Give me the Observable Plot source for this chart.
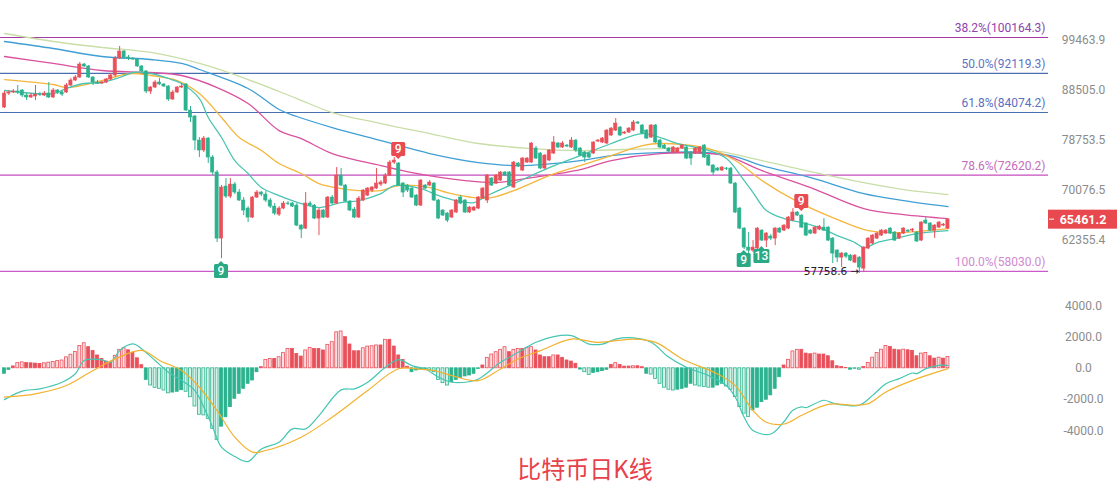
<!DOCTYPE html>
<html><head><meta charset="utf-8">
<script src="https://cdn.jsdelivr.net/npm/d3@7"></script>
<script src="https://cdn.jsdelivr.net/npm/@observablehq/plot@0.6"></script>
<style>
body{margin:0;background:#fff;font-family:Roboto,"Noto Sans",sans-serif;}
#wrap{position:relative;width:1117px;height:490px;overflow:hidden;background:#fff;}
#price{position:absolute;left:0;top:0;}
#macd{position:absolute;left:0;top:295px;}
#cap{position:absolute;left:0;top:455px;width:1170px;text-align:center;font-size:24px;line-height:26px;font-family:"Noto Sans CJK SC";color:#e8414b;}
</style></head><body>
<div id="wrap"><div id="price"></div><div id="macd"></div><div id="cap">比特币日K线</div></div>
<script>
// ---------- data ----------
const open = [
85060,87880,88090,88290,88500,87470,87070,87270,87680,87470,
87880,87070,88500,88090,88090,89540,90590,91230,94040,93610,
91230,90170,89960,90170,90800,91660,95370,96940,95590,95370,
95150,93610,92520,88290,89120,90170,89750,89330,86660,88090,
89120,89750,84460,83290,78740,76930,79110,75680,73080,62630,
70720,69090,71050,69740,68450,67180,65780,68930,69740,69410,
68450,67490,66240,67180,67970,67970,67650,64560,64110,67970,
67650,65630,66870,65780,68930,67970,72560,70890,68290,67020,
65780,68450,69250,70060,70390,71050,71220,72560,74800,74630,
71220,70890,70390,69250,67650,70890,70890,71220,68450,66870,
66400,65780,66560,68930,68450,66560,66870,67180,68770,68450,
72060,71220,71720,73080,73080,70560,74630,73420,74800,74800,
77290,76390,73760,75150,76390,78200,77470,77830,77470,78740,
77290,76570,76390,76390,78560,78380,78200,79670,80600,81170,
80040,80230,80600,82130,81550,80600,79300,81550,78740,77830,
77290,76570,76570,77290,77470,76570,76390,76570,77830,76030,
74280,73760,73420,73760,73760,71220,67180,64110,61330,60900,
61190,63810,62340,62930,62630,64110,63810,64110,65320,66560,
66090,64870,63810,63370,63960,64260,64260,62630,60900,59910,
60480,60190,59220,59910,58390,61190,61910,62630,63070,63370,
64110,63520,62630,63370,63810,63810,63520,62340,65320,64870,
63810,64260,64560,64110];
const close = [
87880,88090,88290,88090,87470,87070,87470,87680,87580,87880,
87070,88500,88090,87680,89540,90590,91230,94040,93610,91230,
90170,89960,90170,90800,91660,95370,96940,95590,95370,95150,
93610,92520,88290,89120,90170,89750,89330,86660,88090,89120,
89330,84460,83090,78740,76930,79110,75680,73080,62630,70560,
69090,71050,69740,68450,66870,65780,68930,69740,69410,68450,
67490,66400,67180,67970,67890,67490,64560,63960,67970,67650,
65630,66870,65780,68930,67970,72560,70890,68290,66870,65780,
68770,70060,70390,70560,71220,71390,72560,74800,75150,70890,
69740,70060,68930,67650,71720,70390,71390,68450,65630,66090,
65320,66870,68450,67970,66560,67340,67340,68930,70390,72560,
70890,72560,73080,72560,70890,74800,74110,75500,75500,78200,
75500,73760,76030,76930,78380,77470,78200,77650,78740,76930,
76030,75680,75680,78380,78740,79110,80600,80980,81930,79670,
80230,80980,82130,81930,80040,79110,81550,78380,77470,77290,
76750,77470,77290,77830,75500,75500,77290,77470,75680,74280,
73080,73420,73930,73680,71220,66560,64110,61330,60900,61330,
64110,62340,63370,62630,64110,63520,64560,65780,66560,66090,
64260,63070,63370,64260,64410,63810,62340,60480,59910,60480,
60050,59500,60190,58530,61330,62630,63070,63370,63810,63810,
63370,62340,63370,64110,63660,63960,62200,65020,64870,63810,
64560,65020,64710,65461.2];
const high = [
88290,88500,88710,89540,88710,87880,87880,89540,88090,88290,
90170,88920,88710,88500,89960,91020,91660,94490,94270,93820,
91440,90590,90380,91020,92090,95820,98080,97170,96040,95590,
95370,93820,92730,89330,90590,91020,89960,89540,88500,89330,
89960,89960,85250,83480,79300,79480,79300,76030,73420,70890,
72060,72060,71390,70230,68930,67490,69090,70060,69900,69900,
68770,67970,67490,68290,68290,68130,67970,64710,69740,68290,
67810,67180,67020,69090,69250,73930,73760,71050,68450,67340,
69090,70230,70560,70720,73760,71720,72910,75150,75680,74800,
71390,71050,70560,69410,71890,71050,71720,71390,68610,67020,
66560,67020,68610,69250,68610,67490,67490,69090,70560,72730,
72220,72730,73250,73250,73250,74980,74800,75680,75680,78380,
77650,76570,76210,77110,79480,78380,78560,78010,79300,78930,
77470,76750,76570,78560,78930,79300,80790,81170,82900,81360,
80420,81170,82510,82320,81740,80790,81740,81740,78930,78010,
77470,77650,77470,78010,77650,76750,77470,77650,78010,76210,
74450,73930,74110,73930,73930,71390,67340,64260,63520,62340,
64260,63960,63520,63220,64260,64260,64710,65940,67180,66710,
66240,65020,63960,64410,64560,65630,64410,62780,61040,60620,
60620,60330,60330,60050,61470,62780,63220,63520,63960,63960,
64260,63660,63520,64260,63960,64110,63660,65170,65780,65020,
64710,65170,64870,65630];
const low = [
84860,87470,87880,87680,87070,86460,86860,86460,87270,87270,
86860,86860,87680,87270,87880,89330,90380,91020,93390,91020,
89540,89750,89750,89960,90590,91230,95150,95150,94930,94930,
93390,92300,87880,87680,88920,89540,89120,86260,86460,87880,
88920,84260,82130,76930,75680,76570,74630,72560,62050,59770,
68770,68770,69410,68290,66090,65020,65630,68770,69090,68130,
67180,66090,65940,67020,67650,67340,64410,62630,63960,67490,
65480,63070,65630,65630,67810,67810,70720,68130,66710,65630,
65630,68290,69090,69740,70230,70720,71050,72390,74450,70720,
68930,69740,68770,67490,67490,70230,70720,68290,65480,65940,
65020,65630,66400,67810,66400,66400,66710,67020,68610,67970,
70720,71050,71550,72390,70720,70390,73930,73250,74630,74630,
75330,73590,73590,74980,76210,77290,77290,77470,77290,76570,
75860,74800,75500,76210,78380,78200,78010,79480,80420,79480,
79860,80040,80420,81740,79860,78930,79110,78200,77290,77110,
76570,76390,76390,77110,75330,74280,76210,76390,75500,74110,
72560,73250,73250,73420,71050,66400,63960,61040,60480,60620,
61040,62200,61330,62340,61620,63370,63660,63960,65170,65940,
64110,62930,63220,63220,63810,63660,62200,59080,59220,58530,
59770,59360,59080,57758.6,57850,61040,61760,62490,62930,63220,
63220,62200,62490,63220,63520,63520,62050,62200,64710,63660,
62630,64110,64410,63960];

// moving averages: [candle index, price]
const maTeal = [[0,88500],[11,87880],[14,88920],[18,89960],[22,90170],[26,91230],[29,92300],[33,92090],[37,91020],[40,89960],[44,86860],[46,83090],[49,79300],[52,75150],[55,72910],[58,70560],[62,69250],[67,67970],[71,67340],[76,68130],[80,68450],[85,69580],[88,70890],[94,70390],[98,69250],[102,68450],[106,68130],[109,69250],[115,71220],[123,73930],[130,76030],[137,78200],[144,80040],[148,79300],[152,78200],[159,76930],[163,75500],[167,71720],[169,69740],[172,66870],[176,65630],[180,65020],[184,64260],[188,63070],[192,62050],[194,61330],[197,62050],[201,62630],[206,63370],[213,63810]];
const maOrange = [[0,90800],[11,89750],[14,89120],[22,90590],[26,91660],[29,92090],[33,91660],[39,90590],[44,87880],[49,83090],[53,79300],[58,76930],[62,74630],[67,72910],[71,71220],[76,70390],[80,70060],[85,70060],[89,70890],[96,70560],[100,69740],[106,68930],[110,68930],[115,70060],[123,72560],[130,74280],[137,76030],[144,77830],[148,78200],[159,77290],[165,75150],[171,71720],[179,68290],[187,65780],[195,63810],[202,63520],[213,64110]];
const maMagenta = [[0,95820],[11,94270],[22,92730],[33,92300],[40,91660],[48,89120],[55,85860],[62,80600],[67,79110],[74,76390],[85,74280],[92,73080],[104,71720],[111,71390],[119,72220],[130,73590],[137,75150],[148,76390],[159,76390],[163,76030],[171,73420],[182,70560],[194,67180],[203,66240],[213,65630]];
const maBlue = [[0,99230],[11,97620],[22,95820],[33,95150],[40,94270],[44,92950],[55,88920],[62,84660],[66,83290],[74,81170],[85,78740],[96,76390],[107,74800],[116,74280],[130,75150],[137,76030],[148,76570],[159,76570],[165,75860],[171,74280],[182,72220],[194,69580],[203,68450],[213,67490]];
const maPale = [[0,101100],[11,99230],[22,97850],[33,96720],[44,94270],[55,90800],[66,86860],[74,84070],[85,81930],[96,80040],[107,78200],[119,77290],[130,76930],[148,77290],[159,77110],[171,75150],[182,73250],[194,71390],[203,70230],[213,69410]];

// fibonacci levels
const fibPct = ["38.2%","50.0%","61.8%","78.6%","100.0%"];
const fibPrice = [100164.3, 92119.3, 84074.2, 72620.2, 58030.0];

// price axis ticks
const priceTicks = [62355.4, 70076.5, 78753.5, 88505.0, 99463.9];

// signal markers
const markIndex = [49, 89, 167, 171, 180];
const markPrice = [57990, 77110, 59500, 60050, 68290];
const markLabel = ["9", "9", "9", "13", "9"];
const markAbove = [false, true, false, false, true];

// MACD
const hist = [
-350,-100,120,330,380,340,320,300,280,320,
360,400,460,500,700,870,1050,1430,1600,1350,
1100,820,600,430,380,800,1180,1280,1150,980,
640,200,-740,-1100,-1250,-1310,-1420,-1600,-1550,-1500,
-1400,-1500,-1850,-2440,-2970,-3010,-3230,-3870,-4580,-3730,
-3130,-2480,-1950,-1630,-1310,-990,-780,-250,70,540,
600,600,710,970,1240,1240,920,750,1140,1310,
1240,1240,1140,1500,1670,2300,2350,1990,1520,1090,
1090,1280,1390,1410,1460,1460,1820,1820,1390,820,
540,100,-250,-140,-80,-80,-140,-250,-740,-950,
-1100,-890,-740,-610,-520,-460,-350,-40,180,670,
880,1030,1180,1350,1030,1180,1240,1240,1310,1350,
1140,820,710,710,820,820,670,500,430,290,
-80,-250,-420,-300,-250,-180,-100,220,330,220,
110,110,130,130,70,-350,-400,-680,-990,-1240,
-1370,-1420,-1370,-1310,-1240,-990,-1100,-1160,-1200,-1240,
-1240,-1100,-990,-1160,-1370,-1840,-2480,-2900,-3120,-2690,
-2520,-2160,-2010,-1730,-1310,-570,180,540,1080,1180,
1180,940,900,940,880,880,770,450,130,80,
20,-90,-30,-90,80,340,680,980,1190,1430,
1360,1190,1150,1190,1150,1110,770,940,980,770,
620,680,620,720];
const dif = [[0,-2000],[4,-1460],[8,-1310],[13,-890],[16,-350],[18,500],[22,540],[24,390],[26,1140],[29,1560],[31,1240],[34,500],[37,-250],[40,-780],[43,-1420],[45,-2480],[47,-3760],[49,-5040],[52,-5640],[55,-5960],[58,-5150],[62,-4720],[65,-3870],[68,-3870],[71,-3020],[76,-1380],[79,-1310],[82,-890],[86,70],[89,550],[92,170],[95,-40],[98,-575],[101,-890],[104,-890],[107,-680],[112,380],[116,1020],[120,1660],[124,2020],[128,2090],[132,1550],[135,1550],[138,1870],[142,1940],[146,1660],[150,700],[154,60],[159,-470],[163,-1110],[165,-1850],[167,-3130],[169,-3980],[173,-4200],[176,-3400],[178,-2680],[180,-2470],[181,-2510],[185,-2040],[187,-2220],[190,-2360],[193,-2360],[196,-1730],[199,-980],[202,-660],[205,-300],[206,-340],[208,-20],[211,190],[213,190]];
const dea = [[0,-1840],[7,-1630],[14,-1100],[20,-140],[25,600],[31,1140],[35,500],[40,-140],[44,-1210],[48,-2700],[52,-4400],[56,-5360],[59,-5250],[67,-4400],[74,-3120],[82,-1420],[89,-30],[94,-60],[97,-150],[101,-470],[107,-790],[112,-40],[116,600],[121,1130],[128,1870],[134,1660],[142,1870],[147,1660],[153,600],[161,-360],[165,-1110],[169,-2700],[172,-3450],[176,-3560],[180,-3000],[186,-2300],[192,-2360],[195,-2260],[199,-1510],[205,-770],[213,-20]];
const macdTicks = [-4000, -2000, 0, 2000, 4000];

const lowNoteIndex = 193, lowNotePrice = 57758.6;

// ---------- styles ----------
const RED = "#e9505a", GREEN = "#2cb28e";
const RED_LIGHT = "#fcdfe2", GREEN_LIGHT = "#d3f2e8";
const fibLine = ["#a23aa8", "#4a6fae", "#4a6fae", "#c64dbd", "#c95ac8"];
const fibText = ["#8e44ad", "#5f73c2", "#5a70c0", "#c46cbe", "#d08ad0"];
const maStyle = [
  [maPale, "#c8dea6"], [maBlue, "#3f9fd5"], [maMagenta, "#d9519f"],
  [maOrange, "#f4b63c"], [maTeal, "#4cc4b2"]
];
const xDomain = [-0.9, 235.7];
const FONT = "Roboto, 'Noto Sans', sans-serif";

const candles = close.map((c, i) => ({i, o: open[i], h: high[i], l: low[i], c, up: c >= open[i]}));
const fib = fibPrice.map((p, k) => ({p, label: `${fibPct[k]}(${p.toFixed(1)})`, line: fibLine[k], text: fibText[k]}));

const price = Plot.plot({
  width: 1117, height: 295,
  marginLeft: 0, marginRight: 69, marginTop: 0, marginBottom: 0,
  x: {domain: xDomain, axis: null},
  y: {type: "log", domain: [54839, 109200], axis: null, label: null},
  color: {type: "identity"},
  style: {fontFamily: FONT, background: "transparent", overflow: "visible"},
  marks: [
    Plot.ruleY(fib, {y: "p", stroke: "line", strokeWidth: 1.2}),
    Plot.text(fib, {y: "p", text: "label", frameAnchor: "right", textAnchor: "end", dx: -3, dy: -9, fill: "text", fontSize: 12}),
    ...maStyle.map(([pts, col]) => Plot.line(pts, {x: d => d[0], y: d => d[1], stroke: col, strokeWidth: 1.3, curve: "catmull-rom"})),
    Plot.ruleX(candles, {x: "i", y1: "l", y2: "h", stroke: d => d.up ? RED : GREEN, strokeWidth: 1}),
    Plot.rect(candles, {x1: d => d.i - 0.36, x2: d => d.i + 0.36, y1: "o", y2: "c",
      fill: d => d.up ? RED : GREEN, stroke: d => d.up ? RED : GREEN, strokeWidth: 0.6}),
    Plot.text([{i: lowNoteIndex, p: lowNotePrice}], {x: "i", y: "p", text: d => d.p.toFixed(1) + " →",
      textAnchor: "end", dx: 0, dy: -2, fontSize: 10.5, fill: "#222", fontFamily: "'DejaVu Sans', sans-serif"}),
    Plot.axisY(priceTicks, {anchor: "right", tickSize: 0, tickPadding: 0, dx: 35, textAnchor: "middle",
      tickFormat: d => d.toFixed(1), fill: "#8c8c8c", fontSize: 12, label: null})
  ]
});
document.getElementById("price").appendChild(price);

// markers & last-price tag via the plot's own scales
{
  const sx = price.scale("x"), sy = price.scale("y");
  const g = d3.select(price).append("g");
  markIndex.forEach((mi, k) => {
    const cx = sx.apply(mi), cy = sy.apply(markPrice[k]);
    const w = markLabel[k].length > 1 ? 16 : 14, h = 14;
    const col = markAbove[k] ? "#e84b50" : "#2aa985";
    g.append("rect").attr("x", cx - w / 2).attr("y", cy - h / 2).attr("width", w).attr("height", h).attr("rx", 1.5).attr("fill", col);
    const ny = markAbove[k] ? cy + h / 2 : cy - h / 2, d = markAbove[k] ? 3 : -3;
    g.append("path").attr("d", `M${cx - 3},${ny}L${cx},${ny + d}L${cx + 3},${ny}Z`).attr("fill", col);
    g.append("text").attr("x", cx).attr("y", cy).attr("dy", "0.36em").attr("text-anchor", "middle")
      .attr("fill", "#fff").attr("font-size", 12).attr("font-weight", 500).attr("font-family", FONT).text(markLabel[k]);
  });
  const last = close[close.length - 1];
  const ty = sy.apply(last), x0 = sx.range[1];
  g.append("rect").attr("x", x0).attr("y", ty - 9.5).attr("width", 1117 - x0).attr("height", 19).attr("fill", "#e8494f");
  g.append("line").attr("x1", x0 + 1).attr("x2", x0 + 6).attr("y1", ty).attr("y2", ty).attr("stroke", "#fff").attr("stroke-width", 1);
  g.append("text").attr("x", x0 + 35).attr("y", ty).attr("dy", "0.36em").attr("text-anchor", "middle")
    .attr("fill", "#fff").attr("font-size", 12.5).attr("font-weight", 700).attr("font-family", FONT).text(last.toFixed(1));
}

const histRows = hist.map((v, i) => {
  const prev = i > 0 ? hist[i - 1] : 0;
  const hollow = Math.abs(v) > Math.abs(prev) && Math.sign(v) === Math.sign(prev);
  const col = v >= 0 ? RED : GREEN;
  return {i, v, stroke: col, fill: hollow ? (v >= 0 ? RED_LIGHT : GREEN_LIGHT) : col};
});

const macd = Plot.plot({
  width: 1117, height: 175,
  marginLeft: 0, marginRight: 69, marginTop: 0, marginBottom: 0,
  x: {domain: xDomain, axis: null},
  y: {domain: [-6530, 4652], axis: null, label: null},
  color: {type: "identity"},
  style: {fontFamily: FONT, background: "transparent"},
  marks: [
    Plot.rect(histRows, {x1: d => d.i - 0.33, x2: d => d.i + 0.33, y1: 0, y2: "v", fill: "fill", stroke: "stroke", strokeWidth: 0.8}),
    Plot.line(dif, {x: d => d[0], y: d => d[1], stroke: "#45c6b2", strokeWidth: 1.2, curve: "catmull-rom"}),
    Plot.line(dea, {x: d => d[0], y: d => d[1], stroke: "#f2b12e", strokeWidth: 1.2, curve: "catmull-rom"}),
    Plot.axisY(macdTicks, {anchor: "right", tickSize: 0, tickPadding: 0, dx: 35, textAnchor: "middle",
      tickFormat: d => d.toFixed(1), fill: "#8c8c8c", fontSize: 12, label: null})
  ]
});
document.getElementById("macd").appendChild(macd);
</script>
</body></html>
